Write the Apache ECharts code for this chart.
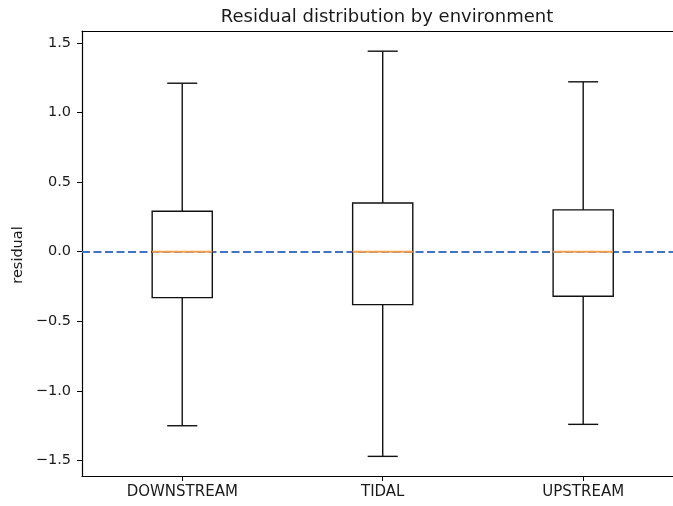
<!DOCTYPE html>
<html>
<head>
<meta charset="utf-8">
<script src="https://cdn.jsdelivr.net/npm/echarts@6/dist/echarts.min.js"></script>
<style>
  html, body { margin: 0; padding: 0; background: #fff; }
  #chart { width: 673px; height: 506px; }
</style>
</head>
<body>
<div id="chart"></div>
<script>
// Residual summary per environment (box = quartiles, whiskers = extremes)
const categories  = ['DOWNSTREAM', 'TIDAL', 'UPSTREAM'];
const positions   = [1, 2, 3];
const whiskerLow  = [-1.25, -1.47, -1.24];
const quartile1   = [-0.33, -0.38, -0.32];
const medians     = [0.0, 0.0, 0.0];
const quartile3   = [0.29, 0.35, 0.30];
const whiskerHigh = [1.21, 1.44, 1.22];
const yTicks      = [-1.5, -1.0, -0.5, 0.0, 0.5, 1.0, 1.5];
const referenceLevel = 0;

const BOX_WIDTH = 0.3;   // in x-axis units
const CAP_WIDTH = 0.15;

const boxData = positions.map((p, i) =>
  [p, whiskerLow[i], quartile1[i], medians[i], quartile3[i], whiskerHigh[i]]);

const fmtTick = v => (v < 0 ? '\u2212' : '') + Math.abs(v).toFixed(1);

function renderBox(params, api) {
  const x = api.value(0);
  const lo = api.coord([x, api.value(1)]);
  const q1 = api.coord([x, api.value(2)]);
  const md = api.coord([x, api.value(3)]);
  const q3 = api.coord([x, api.value(4)]);
  const hi = api.coord([x, api.value(5)]);
  const bw = api.size([BOX_WIDTH, 0])[0];
  const cw = api.size([CAP_WIDTH, 0])[0];
  const cx = lo[0];
  const black = { stroke: '#111', lineWidth: 1.4, fill: null };
  return {
    type: 'group',
    children: [
      { type: 'line', shape: { x1: cx, y1: q3[1], x2: cx, y2: hi[1] }, style: black },
      { type: 'line', shape: { x1: cx, y1: q1[1], x2: cx, y2: lo[1] }, style: black },
      { type: 'line', shape: { x1: cx - cw / 2, y1: hi[1], x2: cx + cw / 2, y2: hi[1] }, style: black },
      { type: 'line', shape: { x1: cx - cw / 2, y1: lo[1], x2: cx + cw / 2, y2: lo[1] }, style: black },
      { type: 'rect', shape: { x: cx - bw / 2, y: q3[1], width: bw, height: q1[1] - q3[1] }, style: black },
      { type: 'line', shape: { x1: cx - bw / 2, y1: md[1], x2: cx + bw / 2, y2: md[1] },
        style: { stroke: '#f5a04f', lineWidth: 2 } }
    ]
  };
}

const chart = echarts.init(document.getElementById('chart'), null, { renderer: 'canvas' });
const textColor = '#1a1a1a';
const tickFont = 'DejaVu Sans';

chart.setOption({
  animation: false,
  backgroundColor: '#fff',
  title: {
    text: 'Residual distribution by environment',
    left: 382,
    top: 3,
    textAlign: 'center',
    textStyle: { fontFamily: tickFont, fontSize: 18, fontWeight: 'normal', color: textColor }
  },
  grid: { left: 82, top: 31, right: 0, bottom: 30, containLabel: false },
  xAxis: [
    {
      type: 'value',
      min: 0.5,
      max: 3.448,
      position: 'bottom',
      splitLine: { show: false },
      axisLine: { show: true, onZero: false, lineStyle: { color: '#000', width: 1.2 } },
      axisTick: { show: true, length: 5, customValues: positions, lineStyle: { color: '#000', width: 1 } },
      axisLabel: {
        customValues: positions,
        margin: 9,
        fontFamily: tickFont,
        fontSize: 15,
        color: textColor,
        formatter: v => categories[positions.indexOf(Math.round(v))] || ''
      }
    },
    {
      type: 'value',
      min: 0.5,
      max: 3.448,
      position: 'top',
      splitLine: { show: false },
      axisLine: { show: true, onZero: false, lineStyle: { color: '#000', width: 1.2 } },
      axisTick: { show: false },
      axisLabel: { show: false }
    }
  ],
  yAxis: {
    type: 'value',
    min: -1.611,
    max: 1.585,
    splitLine: { show: false },
    axisLine: { show: true, onZero: false, lineStyle: { color: '#000', width: 1.2 } },
    axisTick: { show: true, length: 5, customValues: yTicks, lineStyle: { color: '#000', width: 1 } },
    axisLabel: {
      customValues: yTicks,
      margin: 11,
      fontFamily: tickFont,
      fontSize: 14.5,
      color: textColor,
      formatter: fmtTick
    }
  },
  graphic: [
    {
      type: 'text',
      x: 18,
      y: 255,
      rotation: Math.PI / 2,
      style: {
        text: 'residual',
        fontFamily: tickFont,
        fontSize: 14.5,
        fill: textColor,
        align: 'center',
        verticalAlign: 'middle'
      }
    }
  ],
  series: [
    {
      type: 'custom',
      xAxisIndex: 0,
      renderItem: renderBox,
      data: boxData,
      encode: { x: 0, y: [1, 2, 3, 4, 5] },
      z: 4,
      markLine: {
        silent: true,
        symbol: 'none',
        label: { show: false },
        z: 1,
        lineStyle: { color: '#4472c4', type: [8, 3.5], width: 1.8 },
        data: [{ yAxis: referenceLevel }]
      }
    }
  ]
});
</script>
</body>
</html>
